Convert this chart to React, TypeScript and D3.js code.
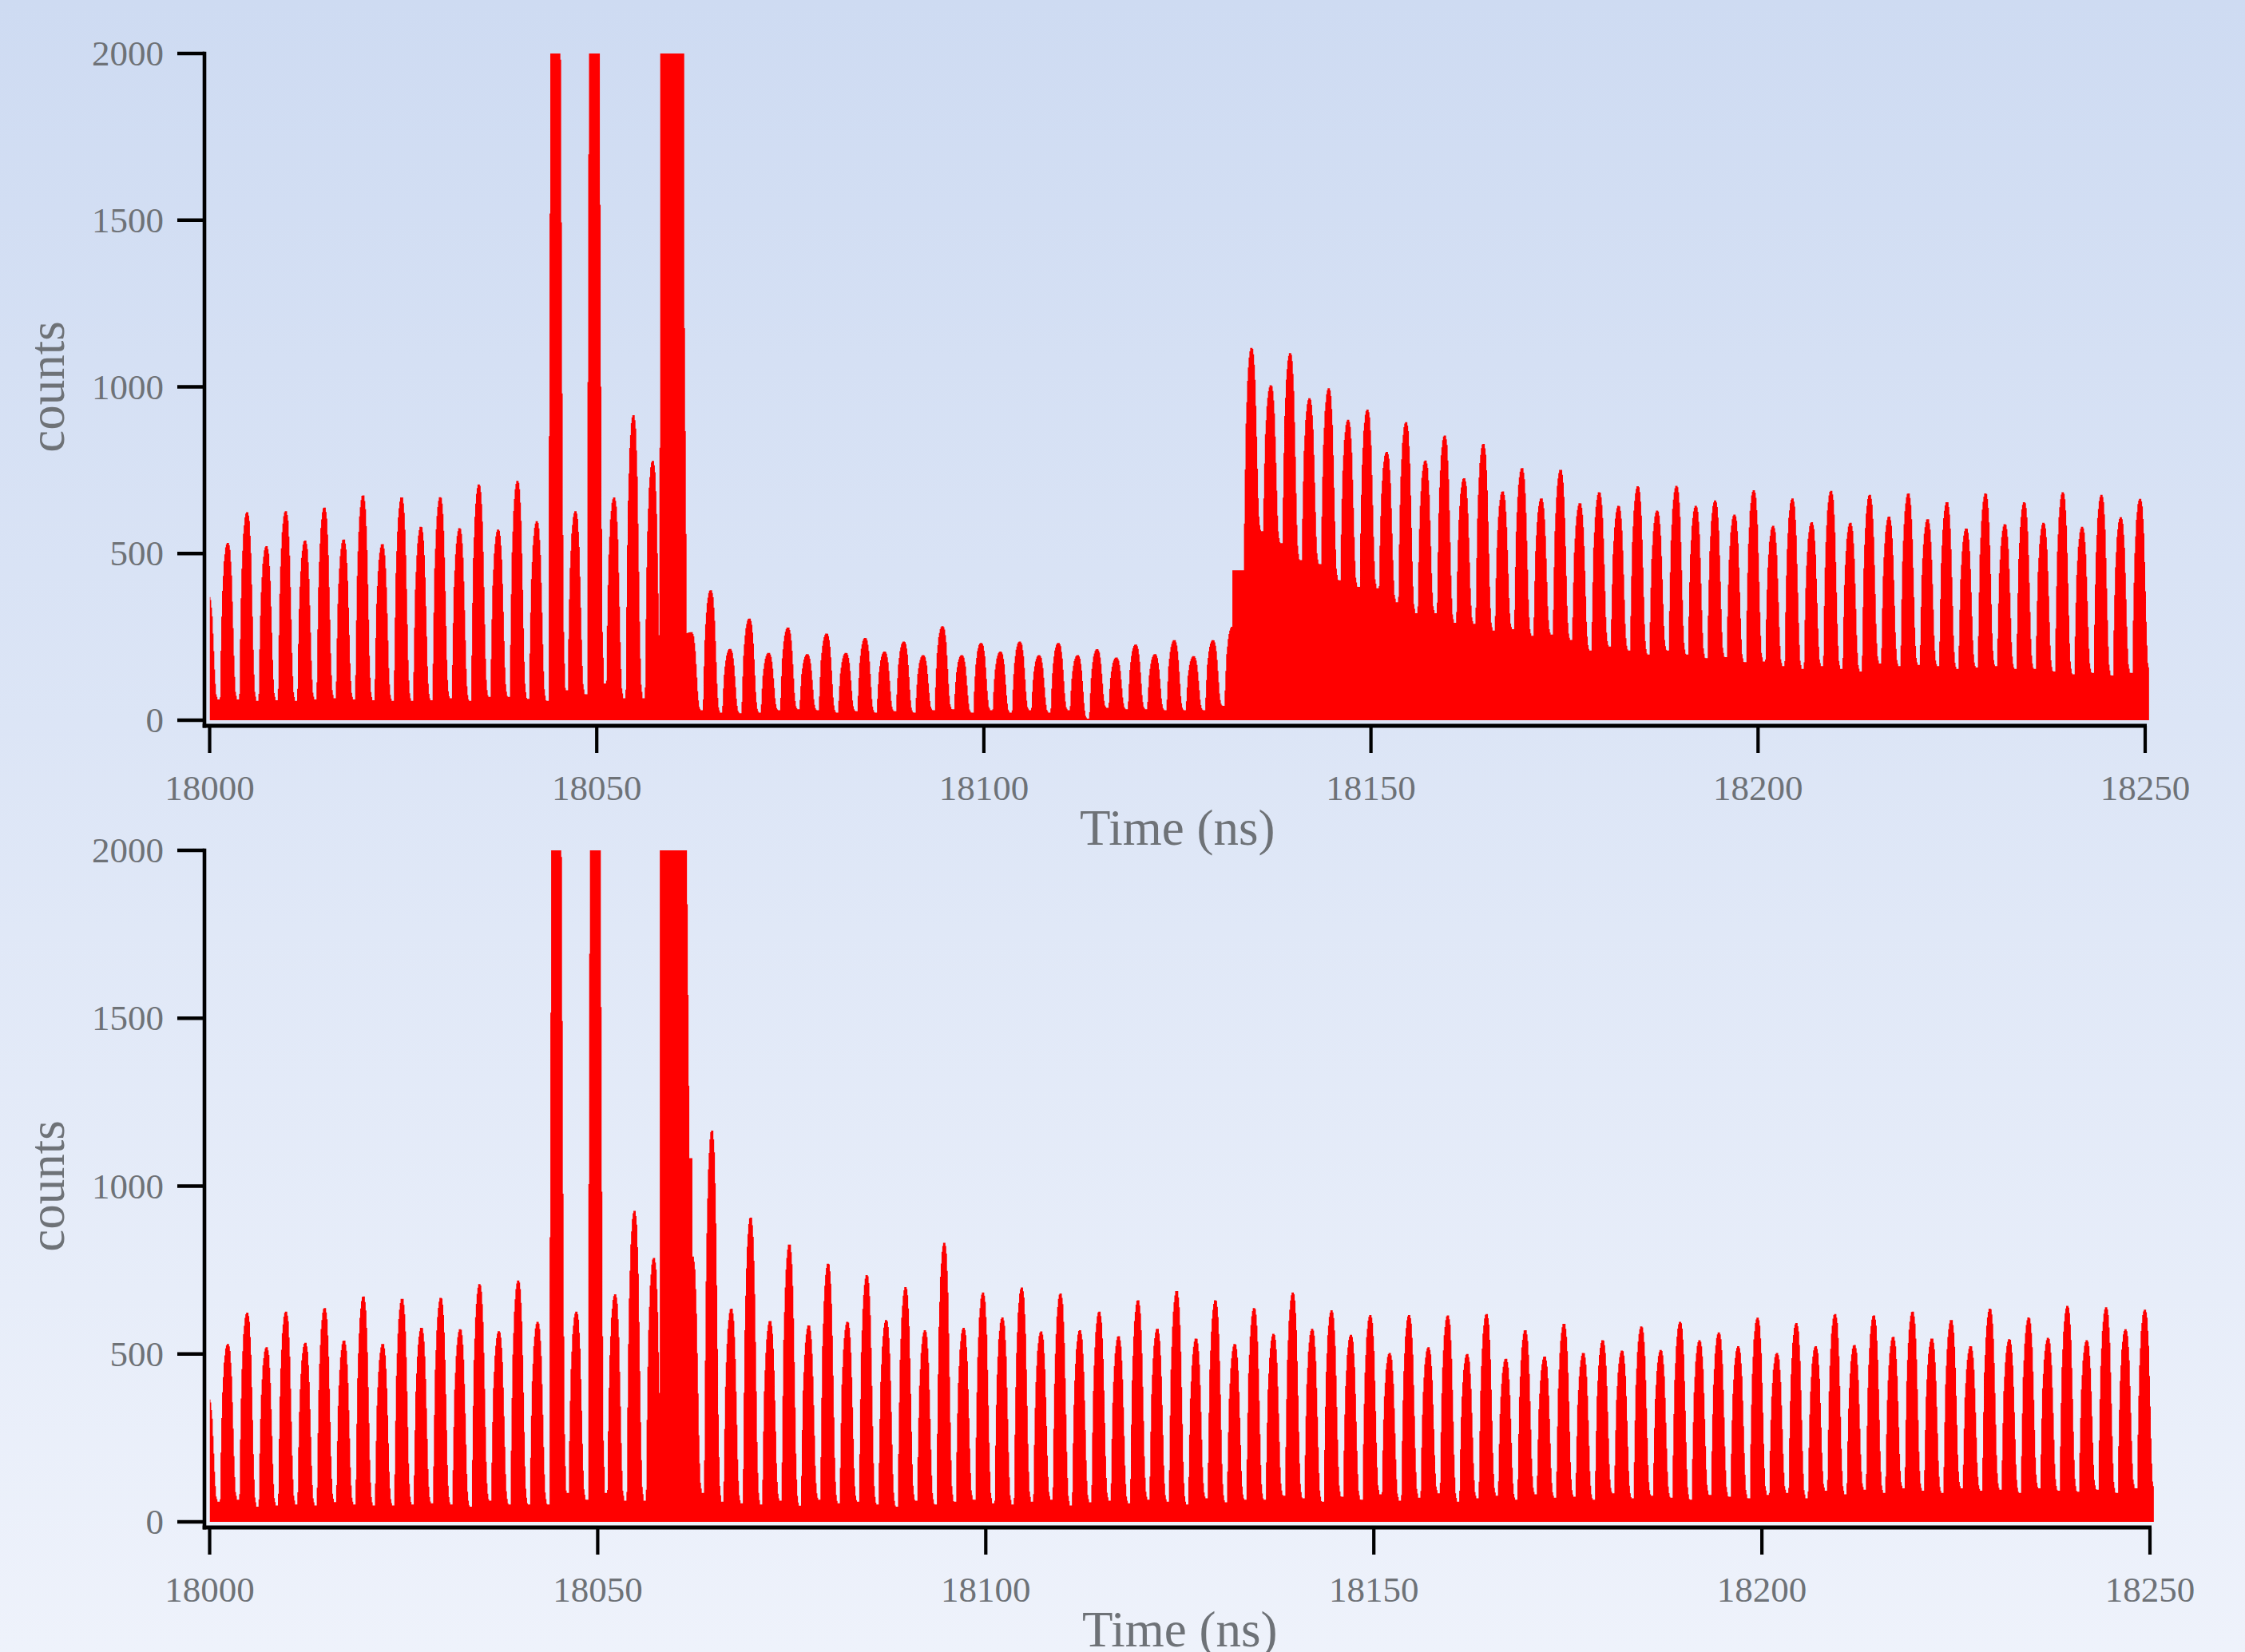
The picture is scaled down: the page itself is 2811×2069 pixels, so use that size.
import React from "react";
import * as d3 from "d3";

// axis ticks
const xTicks = [18000, 18050, 18100, 18150, 18200, 18250];
const yTicks = [0, 500, 1000, 1500, 2000];

// pulse train: first pulse (cut by the left edge) at FIRST_PULSE, then one every PERIOD ns
const FIRST_PULSE = 17999.8;
const PERIOD = 2.495;
const BIN = 0.1; // histogram bin width (ns)
const DATA_END = 18250.5;

// profile of one pulse, read off isolated peaks:
// offset from its centre (ns) -> fraction of its height above the valley
const pulseOffsets = [-1.0, -0.9, -0.74, -0.5, -0.3, -0.15, 0.15, 0.32, 0.5, 0.68, 0.85, 1.0, 1.2];
const pulseShape = [0, 0.3, 0.65, 0.88, 0.97, 1, 1, 0.95, 0.8, 0.5, 0.2, 0.05, 0];

// peak height of each pulse (first entry = partial pulse at 18000); >2000 = off scale
const topPeaks = [
  374, 532, 624, 522, 627, 539, 638, 542, 674, 528, 668, 580, 669, 576, 707, 572, 718, 597,
  3000, 627, 3200, 668, 915, 778, 20000, 264, 390, 214, 305, 202, 278, 198, 260, 202, 247, 206,
  236, 195, 282, 195, 232, 206, 236, 195, 232, 195, 213, 188, 227, 198, 240, 192, 240, 280,
  1117, 1005, 1101, 966, 996, 901, 932, 805, 894, 779, 854, 726, 829, 686, 756, 665, 751, 651,
  684, 643, 702, 629, 703, 643, 659, 617, 690, 583, 665, 594, 688, 592, 676, 611, 680, 603,
  654, 575, 680, 588, 654, 592, 684, 580, 676, 609, 664,
];
// valley level after each pulse
const topValleys = [
  62, 62, 58, 60, 58, 62, 66, 62, 60, 58, 58, 60, 66, 58, 70, 70, 64, 58,
  90, 78, 110, 66, 66, 70, 250, 30,
  23, 21, 23, 30, 33, 30, 23, 27, 23, 27, 23, 30, 33, 23, 30, 23, 30, 23, 30, 5, 37, 33, 33, 30,
  30, 30, 43, 450,
  567, 531, 480, 468, 420, 400, 396, 354, 321, 321, 292, 289, 269, 273, 253, 257, 241, 209, 221,
  209, 197, 209, 197, 186, 189, 174,
  176, 162, 154, 162, 154, 146, 170, 162, 166, 162, 154, 158, 162, 154, 154, 146, 138, 142, 134,
  142, 146,
];

const bottomPeaks = [
  369, 530, 623, 520, 626, 533, 637, 540, 671, 530, 664, 578, 667, 574, 708, 568, 719, 596,
  3000, 626, 3200, 678, 926, 786, 20000, 790, 1165, 635, 906, 598, 826, 585, 769, 596, 735, 601,
  699, 571, 831, 578, 683, 609, 698, 567, 680, 571, 626, 553, 660, 575, 687, 546, 660, 530,
  637, 560, 683, 575, 630, 557, 616, 503, 616, 520, 615, 500, 619, 486, 571, 492, 590, 503,
  541, 510, 582, 512, 596, 541, 564, 523, 608, 503, 592, 523, 619, 527, 615, 551, 626, 546,
  601, 523, 635, 544, 609, 548, 643, 541, 639, 574, 632,
];
const bottomValleys = [
  60, 66, 45, 49, 52, 49, 59, 52, 49, 49, 52, 55, 52, 45, 63, 52, 52, 52,
  86, 66, 86, 63, 63, 70, 1083, 86,
  60, 55, 52, 63, 48, 66, 55, 60, 52, 45, 63, 52, 60, 66, 55, 52, 60, 66, 49, 58, 63, 55, 66, 60,
  52, 70, 58, 66,
  66, 78, 70, 60, 75, 66, 82, 63, 72, 85, 60, 70, 78, 66, 82, 72, 75, 66, 85, 70, 78, 72, 66, 80,
  75, 70,
  80, 86, 70, 93, 82, 96, 86, 100, 93, 86, 100, 93, 96, 86, 100, 93, 90, 96, 86, 100, 93,
];

// saturated pulses that are wider than the others: [pulse index, width factor]
const topWide: [number, number][] = [[24, 1.6]];
const bottomWide: [number, number][] = [[24, 1.75]];

const shapeAt = d3.scaleLinear().domain(pulseOffsets).range(pulseShape).clamp(true);

function buildBins(peaks: number[], valleys: number[], wide: [number, number][]) {
  const widths = new Map(wide);
  const n = Math.round((DATA_END - 18000) / BIN);
  const bins: [number, number][] = [];
  for (let b = 0; b <= n; b++) {
    const t = 18000 + b * BIN;
    const k = Math.round((t - FIRST_PULSE) / PERIOD);
    const ck = FIRST_PULSE + k * PERIOD;
    let v = t >= ck ? valleys[k] : valleys[Math.max(k - 1, 0)];
    for (let j = k - 1; j <= k + 1; j++) {
      if (j < 0 || j >= peaks.length) continue;
      const w = widths.get(j) ?? 1;
      const off = (t - (FIRST_PULSE + j * PERIOD)) / w;
      if (off < pulseOffsets[0] || off > pulseOffsets[pulseOffsets.length - 1]) continue;
      const base = off < 0 ? valleys[Math.max(j - 1, 0)] : valleys[j];
      v = Math.max(v, base + (peaks[j] - base) * shapeAt(off));
    }
    bins.push([t, v]);
  }
  return bins;
}

const W = 2811;
const H = 2069;
const textColor = "#6e7277";
const font = "'Liberation Serif', 'Times New Roman', serif";

interface PanelProps {
  id: string;
  peaks: number[];
  valleys: number[];
  wide: [number, number][];
  xRange: [number, number];
  yRange: [number, number];
  axisY: number;
}

const Panel: React.FC<PanelProps> = ({ id, peaks, valleys, wide, xRange, yRange, axisY }) => {
  const x = d3.scaleLinear().domain([18000, 18250]).range(xRange);
  const y = d3.scaleLinear().domain([0, 2000]).range(yRange);
  const axisX = 256;
  const bins = buildBins(peaks, valleys, wide);

  const area = d3
    .area<[number, number]>()
    .x(d => x(d[0]))
    .y0(y(0))
    .y1(d => y(d[1]))
    .curve(d3.curveStepAfter);

  const midX = (xRange[0] + xRange[1]) / 2;
  const midY = (yRange[0] + yRange[1]) / 2;

  return (
    <g>
      <clipPath id={`clip-${id}`}>
        <rect x={x(18000)} y={y(2000)} width={x(DATA_END) - x(18000) + 2} height={y(0) - y(2000)} />
      </clipPath>
      <path d={area(bins) ?? ""} fill="#ff0000" clipPath={`url(#clip-${id})`} />

      {/* y axis */}
      <line x1={axisX} x2={axisX} y1={y(2000) - 2.2} y2={axisY + 2.5} stroke="#000" strokeWidth={4.6} />
      {yTicks.map(t => (
        <g key={t}>
          <line x1={222} x2={axisX} y1={y(t)} y2={y(t)} stroke="#000" strokeWidth={4.4} />
          <text x={205} y={y(t) + 15} textAnchor="end" fontSize={45} fill={textColor} fontFamily={font}>
            {t}
          </text>
        </g>
      ))}

      {/* x axis */}
      <line x1={axisX - 2.3} x2={x(18250) + 2} y1={axisY} y2={axisY} stroke="#000" strokeWidth={4.8} />
      {xTicks.map(t => (
        <g key={t}>
          <line x1={x(t)} x2={x(t)} y1={axisY} y2={axisY + 34} stroke="#000" strokeWidth={4.2} />
          <text x={x(t)} y={axisY + 93} textAnchor="middle" fontSize={45} fill={textColor} fontFamily={font}>
            {t}
          </text>
        </g>
      ))}

      <text x={midX} y={axisY + 149} textAnchor="middle" fontSize={63} fill={textColor} fontFamily={font}>
        Time (ns)
      </text>
      <text
        transform={`translate(80, ${midY}) rotate(-90)`}
        textAnchor="middle"
        fontSize={63}
        fill={textColor}
        fontFamily={font}
      >
        counts
      </text>
    </g>
  );
};

const App: React.FC = () => {
  return (
    <svg
      width={W}
      height={H}
      viewBox={`0 0 ${W} ${H}`}
      style={{ position: "absolute", left: 0, top: 0, display: "block" }}
    >
      <defs>
        <linearGradient id="bg" x1="0" y1="0" x2="0" y2="1">
          <stop offset="0%" stopColor="#cedbf2" />
          <stop offset="100%" stopColor="#eef2fb" />
        </linearGradient>
      </defs>
      <rect width={W} height={H} fill="url(#bg)" />
      <Panel
        id="top"
        peaks={topPeaks}
        valleys={topValleys}
        wide={topWide}
        xRange={[262.5, 2686]}
        yRange={[902, 67]}
        axisY={909}
      />
      <Panel
        id="bottom"
        peaks={bottomPeaks}
        valleys={bottomValleys}
        wide={bottomWide}
        xRange={[262.5, 2692]}
        yRange={[1906, 1065]}
        axisY={1913}
      />
    </svg>
  );
};

export default App;
